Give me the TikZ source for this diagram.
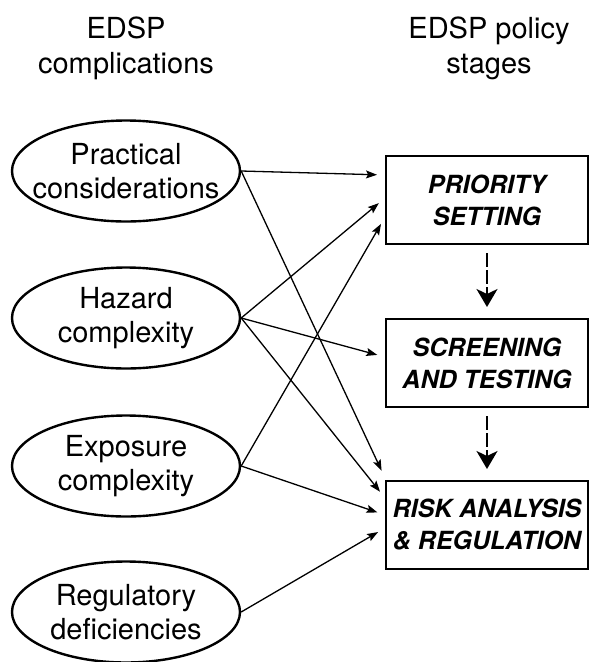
\documentclass[tikz,border=0pt]{standalone}
\usepackage{fontspec}
\setmainfont{TeX Gyre Heros}
\usetikzlibrary{shapes, arrows.meta, positioning}

\begin{document}
\begin{tikzpicture}[
    x=1pt, y=-1pt,
    title/.style={align=center, font=\fontsize{29}{35}\selectfont},
    issue/.style={ellipse, draw, line width=2.4pt, minimum width=228pt, minimum height=101pt,
        inner xsep=-13pt, inner ysep=0pt, align=center, font=\fontsize{29}{34}\selectfont},
    stage/.style={rectangle, draw, line width=2pt, minimum width=202pt, minimum height=88pt,
        inner sep=0pt, align=center, font=\fontsize{25}{32}\selectfont\bfseries\itshape},
    link/.style={line width=1.3pt, -{Stealth[length=11pt, width=8pt, inset=2pt]}, shorten >=8pt},
    flow/.style={line width=2pt, dash pattern=on 14pt off 3pt,
        -{Stealth[length=18pt, width=21pt, inset=5pt]}, shorten >=11pt, shorten <=8pt}
]
\useasboundingbox (0,0) rectangle (590,662);

% titres
\node[title] (tleft) at (126,48) {EDSP\\complications};
\node[title] (tright) at (489,48) {EDSP policy\\stages};

% complications
\node[issue] (prac) at (126,171) {Practical\\considerations};
\node[issue] (haz) at (126,318) {Hazard\\complexity};
\node[issue] (expo) at (126,466) {Exposure\\complexity};
\node[issue] (reg) at (126,612) {Regulatory\\deficiencies};

% etapes
\node[stage] (prio) at (487,200) {PRIORITY\\SETTING};
\node[stage] (scr) at (487,363) {SCREENING\\AND TESTING};
\node[stage] (risk) at (487,525) {RISK ANALYSIS\\\& REGULATION};

% fleches entre etapes
\draw[flow] (prio) -- (scr);
\draw[flow] (scr) -- (risk);

% liens complications -> etapes
\draw[link] (prac.east) -- ([yshift=25pt]prio.west);
\draw[link] (haz.east) -- ([yshift=2pt]prio.west);
\draw[link] (expo.east) -- ([yshift=-17pt]prio.west);
\draw[link] (haz.east) -- ([yshift=6pt]scr.west);
\draw[link] (prac.east) -- ([yshift=47pt]risk.west);
\draw[link] (haz.east) -- ([yshift=27pt]risk.west);
\draw[link] (expo.east) -- ([yshift=10pt]risk.west);
\draw[link] (reg.east) -- ([yshift=-3pt]risk.west);
\end{tikzpicture}
\end{document}
